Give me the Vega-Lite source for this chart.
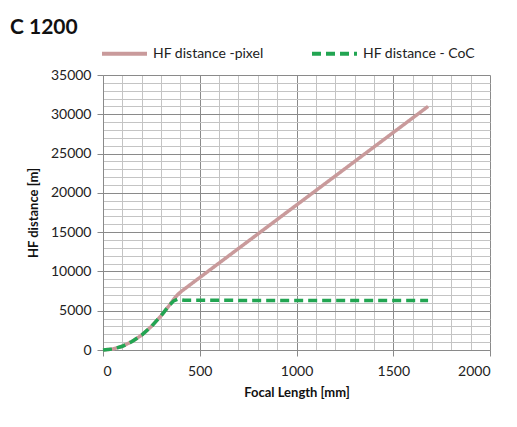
{
  "$schema": "https://vega.github.io/schema/vega-lite/v6.json",
  "autosize": "none",
  "width": 387,
  "height": 275,
  "padding": {"left": 103, "top": 75, "right": 27, "bottom": 77},
  "background": "white",
  "title": {"text": "C 1200", "anchor": "start", "frame": "group", "dx": -93, "fontSize": 21, "font": "Lato", "fontWeight": "bold", "color": "#111", "offset": -9},
  "config": {"view": {"stroke": null}, "font": "Lato"},
  "data": {"values": [
    {"f": 0, "d": 0, "s": "HF distance -pixel"},
    {"f": 50, "d": 120, "s": "HF distance -pixel"},
    {"f": 100, "d": 470, "s": "HF distance -pixel"},
    {"f": 150, "d": 1080, "s": "HF distance -pixel"},
    {"f": 200, "d": 1900, "s": "HF distance -pixel"},
    {"f": 250, "d": 3000, "s": "HF distance -pixel"},
    {"f": 300, "d": 4350, "s": "HF distance -pixel"},
    {"f": 340, "d": 5600, "s": "HF distance -pixel"},
    {"f": 370, "d": 6600, "s": "HF distance -pixel"},
    {"f": 390, "d": 7150, "s": "HF distance -pixel"},
    {"f": 410, "d": 7560, "s": "HF distance -pixel"},
    {"f": 1680, "d": 31000, "s": "HF distance -pixel"},
    {"f": 0, "d": 0, "s": "HF distance - CoC"},
    {"f": 50, "d": 120, "s": "HF distance - CoC"},
    {"f": 100, "d": 470, "s": "HF distance - CoC"},
    {"f": 150, "d": 1080, "s": "HF distance - CoC"},
    {"f": 200, "d": 1900, "s": "HF distance - CoC"},
    {"f": 250, "d": 3000, "s": "HF distance - CoC"},
    {"f": 300, "d": 4350, "s": "HF distance - CoC"},
    {"f": 340, "d": 5600, "s": "HF distance - CoC"},
    {"f": 365, "d": 6250, "s": "HF distance - CoC"},
    {"f": 385, "d": 6450, "s": "HF distance - CoC"},
    {"f": 420, "d": 6320, "s": "HF distance - CoC"},
    {"f": 1680, "d": 6300, "s": "HF distance - CoC"}
  ]},
  "mark": {"type": "line", "strokeWidth": 3.5},
  "encoding": {
    "x": {"field": "f", "type": "quantitative", "scale": {"domain": [0, 2000], "nice": false},
      "axis": {"title": "Focal Length [mm]", "values": [0,100,200,300,400,500,600,700,800,900,1000,1100,1200,1300,1400,1500,1600,1700,1800,1900,2000],
        "labelExpr": "datum.value % 500 === 0 ? datum.label : ''", "format": "d",
        "gridColor": {"condition": {"test": "datum.value % 500 === 0", "value": "#8a8a8a"}, "value": "#c4c4c4"},
        "tickOpacity": {"condition": {"test": "datum.value % 500 === 0", "value": 1}, "value": 0},
        "tickColor": "#8a8a8a", "domainColor": "#8a8a8a", "tickSize": 6,
        "labelFont": "Lato", "labelFontSize": 14, "labelColor": "#222", "labelPadding": 8,
        "titleFont": "Lato", "titleFontSize": 13, "titleFontWeight": "bold", "titleColor": "#111", "titlePadding": 8}},
    "y": {"field": "d", "type": "quantitative", "scale": {"domain": [0, 35000], "nice": false},
      "axis": {"title": "HF distance [m]", "values": [0,1000,2000,3000,4000,5000,6000,7000,8000,9000,10000,11000,12000,13000,14000,15000,16000,17000,18000,19000,20000,21000,22000,23000,24000,25000,26000,27000,28000,29000,30000,31000,32000,33000,34000,35000],
        "labelExpr": "datum.value % 5000 === 0 ? datum.label : ''", "format": "d",
        "gridColor": {"condition": {"test": "datum.value % 5000 === 0", "value": "#8a8a8a"}, "value": "#c4c4c4"},
        "tickOpacity": {"condition": {"test": "datum.value % 5000 === 0", "value": 1}, "value": 0},
        "tickColor": "#8a8a8a", "domainColor": "#8a8a8a", "tickSize": 6,
        "labelFont": "Lato", "labelFontSize": 14, "labelColor": "#222", "labelPadding": 6,
        "titleFont": "Lato", "titleFontSize": 13, "titleFontWeight": "bold", "titleColor": "#111", "titlePadding": 10}},
    "color": {"field": "s", "type": "nominal", "sort": ["HF distance -pixel", "HF distance - CoC"],
      "scale": {"domain": ["HF distance -pixel", "HF distance - CoC"], "range": ["#c99a9b", "#22a552"]},
      "legend": {"title": null, "orient": "none", "legendX": -3, "legendY": -46, "direction": "horizontal", "symbolType": "stroke", "symbolSize": 2025, "symbolStrokeWidth": 4,
        "labelFont": "Lato", "labelFontSize": 14, "labelColor": "#222", "columnPadding": 40, "padding": 0}},
    "strokeDash": {"field": "s", "type": "nominal", "sort": ["HF distance -pixel", "HF distance - CoC"],
      "scale": {"domain": ["HF distance -pixel", "HF distance - CoC"], "range": [[1, 0], [9, 5]]}, "legend": null}
  }
}
